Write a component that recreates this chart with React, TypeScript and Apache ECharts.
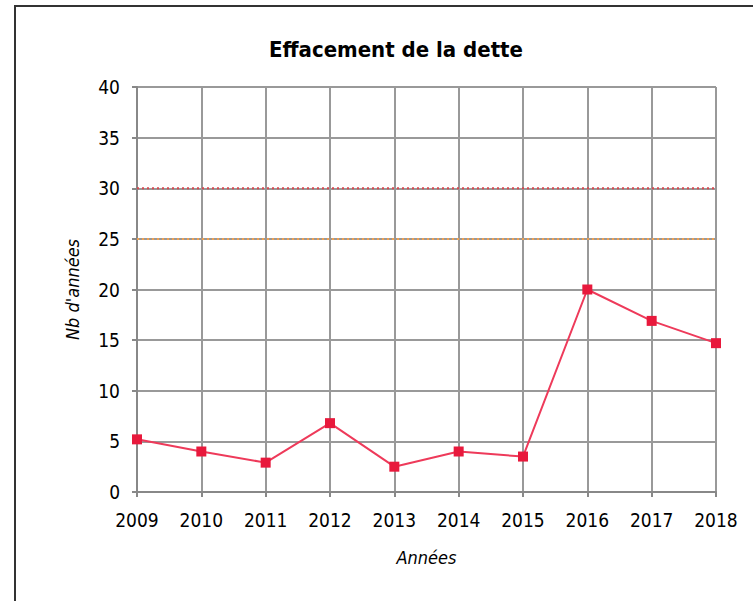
import React, { useEffect, useRef } from "react";
import * as echarts from "echarts";

const years = ["2009", "2010", "2011", "2012", "2013", "2014", "2015", "2016", "2017", "2018"];
const values = [5.2, 4.0, 2.9, 6.8, 2.5, 4.0, 3.5, 20.0, 16.9, 14.7];
const refRed = 30;
const refOrange = 25;
const title = "Effacement de la dette";

const FONT = "'DejaVu Sans Condensed', 'Liberation Sans Narrow', sans-serif";

export default function App() {
  const ref = useRef<HTMLDivElement>(null);
  useEffect(() => {
    if (!ref.current) return;
    const chart = echarts.init(ref.current, undefined, { renderer: "svg" });
    chart.setOption({
      animation: false,
      backgroundColor: "#ffffff",
      title: {
        text: title,
        left: 391,
        top: 33,
        textAlign: "center",
        textStyle: { fontFamily: FONT, fontSize: 22, fontWeight: "bold", color: "#000" },
      },
      graphic: [
        {
          type: "rect",
          shape: { x: 15, y: 6, width: 760, height: 620 },
          style: { fill: "none", stroke: "#333", lineWidth: 2 },
          silent: true,
          z: -1,
        },
      ],
      grid: { left: 137, right: 37, top: 87, bottom: 109, containLabel: false },
      xAxis: {
        type: "category",
        data: years,
        boundaryGap: false,
        name: "Années",
        nameLocation: "middle",
        nameGap: 56,
        nameTextStyle: { fontFamily: FONT, fontSize: 18, fontStyle: "italic", color: "#000" },
        axisLine: { show: true, lineStyle: { color: "#888", width: 2 } },
        axisTick: { show: true, alignWithLabel: true, length: 5, lineStyle: { color: "#888", width: 2 } },
        axisLabel: { fontFamily: FONT, fontSize: 19, color: "#000", margin: 18, interval: 0 },
        splitLine: { show: true, lineStyle: { color: "#999", width: 2 } },
      },
      yAxis: {
        type: "value",
        min: 0,
        max: 40,
        interval: 5,
        name: "Nb d'années",
        nameLocation: "middle",
        nameGap: 56,
        nameRotate: 90,
        nameTextStyle: { fontFamily: FONT, fontSize: 18, fontStyle: "italic", color: "#000" },
        axisLine: { show: true, lineStyle: { color: "#888", width: 2 } },
        axisTick: { show: true, length: 5, lineStyle: { color: "#888", width: 2 } },
        axisLabel: { fontFamily: FONT, fontSize: 19, color: "#000", margin: 17 },
        splitLine: { show: true, lineStyle: { color: "#999", width: 2 } },
      },
      series: [
        {
          type: "line",
          data: values,
          symbol: "rect",
          symbolSize: 10,
          itemStyle: { color: "#e8193c" },
          lineStyle: { color: "#ee3a5a", width: 2 },
          z: 5,
        },
        {
          type: "line",
          data: years.map(() => refRed),
          symbol: "none",
          lineStyle: { color: "#d9484f", width: 2, type: [2, 3] },
          z: 3,
        },
        {
          type: "line",
          data: years.map(() => refOrange),
          symbol: "none",
          lineStyle: { color: "#f0a050", width: 2, type: [2, 3] },
          z: 3,
        },
      ],
    });
    return () => chart.dispose();
  }, []);
  return <div ref={ref} style={{ position: "absolute", left: 0, top: 0, width: 753, height: 601 }} />;
}
